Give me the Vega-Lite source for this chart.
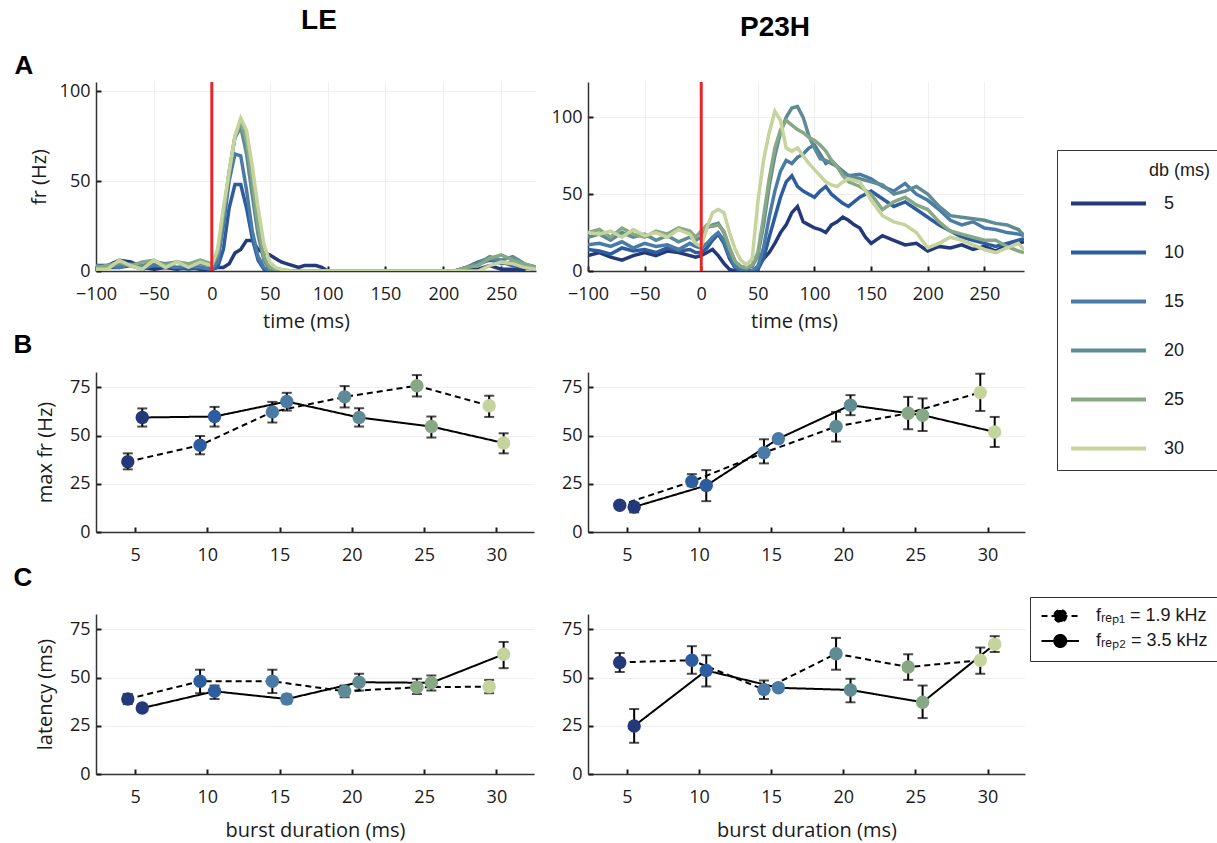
{
"$schema": "https://vega.github.io/schema/vega-lite/v6.json",
"padding": {"left": 13, "top": 7, "right": 0, "bottom": 2},
"background": "white",
"spacing": 0,
"datasets": {
"red": [{"t": 0}],
"leA": [
{"d":5,"t":-100,"v":3},{"d":5,"t":-90,"v":3},{"d":5,"t":-80,"v":6},{"d":5,"t":-70,"v":5},{"d":5,"t":-60,"v":2},{"d":5,"t":-50,"v":1},{"d":5,"t":-40,"v":2},{"d":5,"t":-30,"v":1},{"d":5,"t":-20,"v":2},{"d":5,"t":-10,"v":1},{"d":5,"t":0,"v":1},{"d":5,"t":5,"v":2},{"d":5,"t":10,"v":2},{"d":5,"t":15,"v":4},{"d":5,"t":20,"v":10},{"d":5,"t":25,"v":12},{"d":5,"t":30,"v":17},{"d":5,"t":35,"v":17},{"d":5,"t":40,"v":12},{"d":5,"t":45,"v":10},{"d":5,"t":50,"v":9},{"d":5,"t":55,"v":7},{"d":5,"t":60,"v":5},{"d":5,"t":65,"v":4},{"d":5,"t":70,"v":3},{"d":5,"t":75,"v":2},{"d":5,"t":80,"v":3},{"d":5,"t":90,"v":3},{"d":5,"t":95,"v":2},{"d":5,"t":100,"v":0},{"d":5,"t":210,"v":0},{"d":5,"t":220,"v":1},{"d":5,"t":230,"v":1},{"d":5,"t":240,"v":3},{"d":5,"t":250,"v":1},{"d":5,"t":260,"v":1},{"d":5,"t":270,"v":1},{"d":5,"t":275,"v":3},{"d":5,"t":280,"v":2},
{"d":10,"t":-100,"v":2},{"d":10,"t":-90,"v":2},{"d":10,"t":-80,"v":2},{"d":10,"t":-70,"v":3},{"d":10,"t":-60,"v":1},{"d":10,"t":-50,"v":3},{"d":10,"t":-40,"v":2},{"d":10,"t":-30,"v":2},{"d":10,"t":-20,"v":1},{"d":10,"t":-10,"v":2},{"d":10,"t":0,"v":1},{"d":10,"t":5,"v":2},{"d":10,"t":10,"v":12},{"d":10,"t":15,"v":35},{"d":10,"t":20,"v":48},{"d":10,"t":25,"v":48},{"d":10,"t":30,"v":35},{"d":10,"t":35,"v":18},{"d":10,"t":40,"v":6},{"d":10,"t":45,"v":1},{"d":10,"t":50,"v":1},{"d":10,"t":60,"v":0},{"d":10,"t":210,"v":0},{"d":10,"t":220,"v":2},{"d":10,"t":230,"v":4},{"d":10,"t":240,"v":6},{"d":10,"t":250,"v":5},{"d":10,"t":260,"v":3},{"d":10,"t":270,"v":2},{"d":10,"t":280,"v":1},
{"d":15,"t":-100,"v":2},{"d":15,"t":-90,"v":3},{"d":15,"t":-80,"v":2},{"d":15,"t":-70,"v":4},{"d":15,"t":-60,"v":2},{"d":15,"t":-50,"v":3},{"d":15,"t":-40,"v":3},{"d":15,"t":-30,"v":2},{"d":15,"t":-20,"v":3},{"d":15,"t":-10,"v":2},{"d":15,"t":0,"v":1},{"d":15,"t":5,"v":5},{"d":15,"t":10,"v":25},{"d":15,"t":15,"v":50},{"d":15,"t":20,"v":65},{"d":15,"t":25,"v":64},{"d":15,"t":30,"v":45},{"d":15,"t":35,"v":22},{"d":15,"t":40,"v":8},{"d":15,"t":45,"v":2},{"d":15,"t":50,"v":0},{"d":15,"t":210,"v":0},{"d":15,"t":220,"v":2},{"d":15,"t":230,"v":5},{"d":15,"t":240,"v":7},{"d":15,"t":250,"v":4},{"d":15,"t":260,"v":5},{"d":15,"t":270,"v":2},{"d":15,"t":280,"v":1},
{"d":20,"t":-100,"v":3},{"d":20,"t":-90,"v":2},{"d":20,"t":-80,"v":4},{"d":20,"t":-70,"v":3},{"d":20,"t":-60,"v":3},{"d":20,"t":-50,"v":5},{"d":20,"t":-40,"v":4},{"d":20,"t":-30,"v":5},{"d":20,"t":-20,"v":3},{"d":20,"t":-10,"v":4},{"d":20,"t":0,"v":3},{"d":20,"t":5,"v":8},{"d":20,"t":10,"v":30},{"d":20,"t":15,"v":55},{"d":20,"t":20,"v":74},{"d":20,"t":25,"v":80},{"d":20,"t":30,"v":65},{"d":20,"t":35,"v":42},{"d":20,"t":40,"v":20},{"d":20,"t":45,"v":6},{"d":20,"t":50,"v":1},{"d":20,"t":60,"v":0},{"d":20,"t":210,"v":0},{"d":20,"t":220,"v":2},{"d":20,"t":230,"v":4},{"d":20,"t":240,"v":8},{"d":20,"t":250,"v":6},{"d":20,"t":260,"v":8},{"d":20,"t":270,"v":4},{"d":20,"t":280,"v":2},
{"d":25,"t":-100,"v":2},{"d":25,"t":-90,"v":3},{"d":25,"t":-80,"v":5},{"d":25,"t":-70,"v":3},{"d":25,"t":-60,"v":5},{"d":25,"t":-50,"v":6},{"d":25,"t":-40,"v":3},{"d":25,"t":-30,"v":5},{"d":25,"t":-20,"v":4},{"d":25,"t":-10,"v":6},{"d":25,"t":0,"v":4},{"d":25,"t":5,"v":10},{"d":25,"t":10,"v":32},{"d":25,"t":15,"v":55},{"d":25,"t":20,"v":75},{"d":25,"t":25,"v":83},{"d":25,"t":30,"v":72},{"d":25,"t":35,"v":50},{"d":25,"t":40,"v":25},{"d":25,"t":45,"v":8},{"d":25,"t":50,"v":2},{"d":25,"t":60,"v":0},{"d":25,"t":210,"v":0},{"d":25,"t":220,"v":2},{"d":25,"t":230,"v":3},{"d":25,"t":240,"v":7},{"d":25,"t":250,"v":9},{"d":25,"t":260,"v":6},{"d":25,"t":270,"v":4},{"d":25,"t":280,"v":2},
{"d":30,"t":-100,"v":1},{"d":30,"t":-90,"v":1},{"d":30,"t":-80,"v":6},{"d":30,"t":-70,"v":3},{"d":30,"t":-60,"v":1},{"d":30,"t":-50,"v":6},{"d":30,"t":-40,"v":2},{"d":30,"t":-30,"v":5},{"d":30,"t":-20,"v":2},{"d":30,"t":-10,"v":5},{"d":30,"t":0,"v":3},{"d":30,"t":5,"v":12},{"d":30,"t":10,"v":35},{"d":30,"t":15,"v":55},{"d":30,"t":20,"v":75},{"d":30,"t":25,"v":85},{"d":30,"t":30,"v":78},{"d":30,"t":35,"v":58},{"d":30,"t":40,"v":35},{"d":30,"t":45,"v":15},{"d":30,"t":50,"v":5},{"d":30,"t":55,"v":2},{"d":30,"t":60,"v":1},{"d":30,"t":70,"v":0},{"d":30,"t":230,"v":0},{"d":30,"t":240,"v":3},{"d":30,"t":250,"v":5},{"d":30,"t":260,"v":4},{"d":30,"t":270,"v":2},{"d":30,"t":280,"v":1}
],
"pA": [
{"d":5,"t":-100,"v":10},{"d":5,"t":-90,"v":12},{"d":5,"t":-80,"v":9},{"d":5,"t":-70,"v":7},{"d":5,"t":-60,"v":10},{"d":5,"t":-50,"v":12},{"d":5,"t":-40,"v":10},{"d":5,"t":-30,"v":13},{"d":5,"t":-20,"v":12},{"d":5,"t":-10,"v":10},{"d":5,"t":-5,"v":9},{"d":5,"t":0,"v":10},{"d":5,"t":5,"v":12},{"d":5,"t":10,"v":14},{"d":5,"t":15,"v":10},{"d":5,"t":20,"v":5},{"d":5,"t":25,"v":1},{"d":5,"t":30,"v":0},{"d":5,"t":40,"v":0},{"d":5,"t":45,"v":0},{"d":5,"t":50,"v":3},{"d":5,"t":55,"v":8},{"d":5,"t":60,"v":12},{"d":5,"t":65,"v":18},{"d":5,"t":70,"v":25},{"d":5,"t":75,"v":30},{"d":5,"t":80,"v":38},{"d":5,"t":85,"v":42},{"d":5,"t":90,"v":32},{"d":5,"t":95,"v":30},{"d":5,"t":100,"v":28},{"d":5,"t":105,"v":27},{"d":5,"t":110,"v":25},{"d":5,"t":115,"v":30},{"d":5,"t":120,"v":32},{"d":5,"t":125,"v":35},{"d":5,"t":130,"v":33},{"d":5,"t":135,"v":30},{"d":5,"t":140,"v":28},{"d":5,"t":145,"v":22},{"d":5,"t":150,"v":18},{"d":5,"t":160,"v":23},{"d":5,"t":170,"v":20},{"d":5,"t":180,"v":17},{"d":5,"t":190,"v":18},{"d":5,"t":200,"v":13},{"d":5,"t":210,"v":16},{"d":5,"t":220,"v":15},{"d":5,"t":230,"v":17},{"d":5,"t":240,"v":14},{"d":5,"t":250,"v":16},{"d":5,"t":260,"v":13},{"d":5,"t":270,"v":17},{"d":5,"t":280,"v":18},{"d":5,"t":285,"v":19},
{"d":10,"t":-100,"v":14},{"d":10,"t":-90,"v":13},{"d":10,"t":-80,"v":11},{"d":10,"t":-70,"v":15},{"d":10,"t":-60,"v":13},{"d":10,"t":-50,"v":14},{"d":10,"t":-40,"v":12},{"d":10,"t":-30,"v":15},{"d":10,"t":-20,"v":13},{"d":10,"t":-10,"v":14},{"d":10,"t":-5,"v":12},{"d":10,"t":0,"v":12},{"d":10,"t":5,"v":15},{"d":10,"t":10,"v":20},{"d":10,"t":15,"v":24},{"d":10,"t":20,"v":18},{"d":10,"t":25,"v":8},{"d":10,"t":30,"v":2},{"d":10,"t":35,"v":0},{"d":10,"t":45,"v":0},{"d":10,"t":50,"v":1},{"d":10,"t":55,"v":8},{"d":10,"t":60,"v":22},{"d":10,"t":65,"v":35},{"d":10,"t":70,"v":48},{"d":10,"t":75,"v":58},{"d":10,"t":80,"v":62},{"d":10,"t":85,"v":55},{"d":10,"t":90,"v":52},{"d":10,"t":95,"v":50},{"d":10,"t":100,"v":48},{"d":10,"t":105,"v":52},{"d":10,"t":110,"v":55},{"d":10,"t":115,"v":50},{"d":10,"t":120,"v":47},{"d":10,"t":125,"v":44},{"d":10,"t":130,"v":42},{"d":10,"t":140,"v":48},{"d":10,"t":150,"v":52},{"d":10,"t":160,"v":47},{"d":10,"t":170,"v":42},{"d":10,"t":180,"v":45},{"d":10,"t":190,"v":40},{"d":10,"t":200,"v":35},{"d":10,"t":210,"v":30},{"d":10,"t":220,"v":26},{"d":10,"t":230,"v":22},{"d":10,"t":240,"v":20},{"d":10,"t":250,"v":18},{"d":10,"t":260,"v":16},{"d":10,"t":270,"v":18},{"d":10,"t":280,"v":20},{"d":10,"t":285,"v":21},
{"d":15,"t":-100,"v":17},{"d":15,"t":-90,"v":18},{"d":15,"t":-80,"v":16},{"d":15,"t":-70,"v":19},{"d":15,"t":-60,"v":15},{"d":15,"t":-50,"v":18},{"d":15,"t":-40,"v":16},{"d":15,"t":-30,"v":17},{"d":15,"t":-20,"v":14},{"d":15,"t":-10,"v":18},{"d":15,"t":-5,"v":16},{"d":15,"t":0,"v":15},{"d":15,"t":5,"v":18},{"d":15,"t":10,"v":22},{"d":15,"t":15,"v":25},{"d":15,"t":20,"v":20},{"d":15,"t":25,"v":10},{"d":15,"t":30,"v":3},{"d":15,"t":35,"v":1},{"d":15,"t":40,"v":0},{"d":15,"t":45,"v":0},{"d":15,"t":50,"v":3},{"d":15,"t":55,"v":15},{"d":15,"t":60,"v":35},{"d":15,"t":65,"v":52},{"d":15,"t":70,"v":65},{"d":15,"t":75,"v":72},{"d":15,"t":80,"v":70},{"d":15,"t":85,"v":74},{"d":15,"t":90,"v":76},{"d":15,"t":95,"v":80},{"d":15,"t":100,"v":82},{"d":15,"t":105,"v":76},{"d":15,"t":110,"v":70},{"d":15,"t":115,"v":72},{"d":15,"t":120,"v":68},{"d":15,"t":125,"v":65},{"d":15,"t":130,"v":62},{"d":15,"t":140,"v":63},{"d":15,"t":150,"v":60},{"d":15,"t":160,"v":55},{"d":15,"t":170,"v":52},{"d":15,"t":180,"v":57},{"d":15,"t":190,"v":50},{"d":15,"t":200,"v":46},{"d":15,"t":210,"v":40},{"d":15,"t":220,"v":33},{"d":15,"t":230,"v":30},{"d":15,"t":240,"v":32},{"d":15,"t":250,"v":28},{"d":15,"t":260,"v":27},{"d":15,"t":270,"v":25},{"d":15,"t":280,"v":24},{"d":15,"t":285,"v":23},
{"d":20,"t":-100,"v":22},{"d":20,"t":-90,"v":24},{"d":20,"t":-80,"v":20},{"d":20,"t":-70,"v":25},{"d":20,"t":-60,"v":22},{"d":20,"t":-50,"v":24},{"d":20,"t":-40,"v":20},{"d":20,"t":-30,"v":23},{"d":20,"t":-20,"v":19},{"d":20,"t":-10,"v":22},{"d":20,"t":-5,"v":20},{"d":20,"t":0,"v":22},{"d":20,"t":5,"v":28},{"d":20,"t":10,"v":30},{"d":20,"t":15,"v":31},{"d":20,"t":20,"v":25},{"d":20,"t":25,"v":15},{"d":20,"t":30,"v":6},{"d":20,"t":35,"v":3},{"d":20,"t":40,"v":2},{"d":20,"t":45,"v":3},{"d":20,"t":50,"v":10},{"d":20,"t":55,"v":30},{"d":20,"t":60,"v":55},{"d":20,"t":65,"v":75},{"d":20,"t":70,"v":90},{"d":20,"t":75,"v":100},{"d":20,"t":80,"v":106},{"d":20,"t":85,"v":107},{"d":20,"t":90,"v":100},{"d":20,"t":95,"v":88},{"d":20,"t":100,"v":80},{"d":20,"t":105,"v":73},{"d":20,"t":110,"v":72},{"d":20,"t":115,"v":70},{"d":20,"t":120,"v":68},{"d":20,"t":125,"v":64},{"d":20,"t":130,"v":62},{"d":20,"t":140,"v":60},{"d":20,"t":150,"v":58},{"d":20,"t":160,"v":56},{"d":20,"t":170,"v":50},{"d":20,"t":180,"v":52},{"d":20,"t":190,"v":55},{"d":20,"t":200,"v":50},{"d":20,"t":210,"v":42},{"d":20,"t":220,"v":36},{"d":20,"t":230,"v":35},{"d":20,"t":240,"v":34},{"d":20,"t":250,"v":33},{"d":20,"t":260,"v":31},{"d":20,"t":270,"v":30},{"d":20,"t":280,"v":27},{"d":20,"t":285,"v":23},
{"d":25,"t":-100,"v":25},{"d":25,"t":-90,"v":27},{"d":25,"t":-80,"v":22},{"d":25,"t":-70,"v":28},{"d":25,"t":-60,"v":24},{"d":25,"t":-50,"v":22},{"d":25,"t":-40,"v":26},{"d":25,"t":-30,"v":24},{"d":25,"t":-20,"v":28},{"d":25,"t":-10,"v":26},{"d":25,"t":-5,"v":22},{"d":25,"t":0,"v":26},{"d":25,"t":5,"v":30},{"d":25,"t":10,"v":29},{"d":25,"t":15,"v":30},{"d":25,"t":20,"v":26},{"d":25,"t":25,"v":15},{"d":25,"t":30,"v":6},{"d":25,"t":35,"v":3},{"d":25,"t":40,"v":2},{"d":25,"t":45,"v":4},{"d":25,"t":50,"v":12},{"d":25,"t":55,"v":35},{"d":25,"t":60,"v":60},{"d":25,"t":65,"v":80},{"d":25,"t":70,"v":92},{"d":25,"t":75,"v":98},{"d":25,"t":80,"v":95},{"d":25,"t":85,"v":92},{"d":25,"t":90,"v":90},{"d":25,"t":95,"v":87},{"d":25,"t":100,"v":85},{"d":25,"t":105,"v":82},{"d":25,"t":110,"v":78},{"d":25,"t":115,"v":72},{"d":25,"t":120,"v":68},{"d":25,"t":125,"v":62},{"d":25,"t":130,"v":58},{"d":25,"t":140,"v":55},{"d":25,"t":150,"v":50},{"d":25,"t":160,"v":40},{"d":25,"t":170,"v":45},{"d":25,"t":180,"v":48},{"d":25,"t":190,"v":43},{"d":25,"t":200,"v":40},{"d":25,"t":210,"v":32},{"d":25,"t":220,"v":26},{"d":25,"t":230,"v":24},{"d":25,"t":240,"v":22},{"d":25,"t":250,"v":20},{"d":25,"t":260,"v":20},{"d":25,"t":270,"v":16},{"d":25,"t":280,"v":13},{"d":25,"t":285,"v":12},
{"d":30,"t":-100,"v":25},{"d":30,"t":-90,"v":24},{"d":30,"t":-80,"v":26},{"d":30,"t":-70,"v":22},{"d":30,"t":-60,"v":27},{"d":30,"t":-50,"v":23},{"d":30,"t":-40,"v":25},{"d":30,"t":-30,"v":22},{"d":30,"t":-20,"v":27},{"d":30,"t":-10,"v":24},{"d":30,"t":-5,"v":18},{"d":30,"t":0,"v":16},{"d":30,"t":5,"v":28},{"d":30,"t":10,"v":38},{"d":30,"t":15,"v":40},{"d":30,"t":20,"v":38},{"d":30,"t":25,"v":25},{"d":30,"t":30,"v":14},{"d":30,"t":35,"v":7},{"d":30,"t":40,"v":4},{"d":30,"t":45,"v":8},{"d":30,"t":50,"v":45},{"d":30,"t":55,"v":72},{"d":30,"t":60,"v":90},{"d":30,"t":65,"v":104},{"d":30,"t":70,"v":98},{"d":30,"t":75,"v":80},{"d":30,"t":80,"v":78},{"d":30,"t":85,"v":80},{"d":30,"t":90,"v":75},{"d":30,"t":95,"v":70},{"d":30,"t":100,"v":66},{"d":30,"t":105,"v":62},{"d":30,"t":110,"v":58},{"d":30,"t":115,"v":56},{"d":30,"t":120,"v":55},{"d":30,"t":125,"v":58},{"d":30,"t":130,"v":60},{"d":30,"t":140,"v":58},{"d":30,"t":150,"v":46},{"d":30,"t":160,"v":36},{"d":30,"t":170,"v":32},{"d":30,"t":180,"v":30},{"d":30,"t":190,"v":25},{"d":30,"t":200,"v":15},{"d":30,"t":210,"v":18},{"d":30,"t":220,"v":22},{"d":30,"t":230,"v":20},{"d":30,"t":240,"v":17},{"d":30,"t":250,"v":14},{"d":30,"t":260,"v":12},{"d":30,"t":270,"v":15},{"d":30,"t":280,"v":18},{"d":30,"t":285,"v":14}
],
"leB": [
{"d":5,"k":"1.9","v":36.5,"lo":32.5,"hi":40.8},{"d":10,"k":"1.9","v":45,"lo":40.3,"hi":49.8},{"d":15,"k":"1.9","v":62.3,"lo":56.8,"hi":67.5},{"d":20,"k":"1.9","v":70.1,"lo":64.6,"hi":75.7},{"d":25,"k":"1.9","v":75.9,"lo":70.3,"hi":81.4},{"d":30,"k":"1.9","v":65.5,"lo":59.7,"hi":70.7},
{"d":5,"k":"3.5","v":59.4,"lo":54.7,"hi":64.1},{"d":10,"k":"3.5","v":59.9,"lo":54.7,"hi":64.9},{"d":15,"k":"3.5","v":67.7,"lo":63,"hi":72.2},{"d":20,"k":"3.5","v":59.4,"lo":54.7,"hi":64.2},{"d":25,"k":"3.5","v":54.7,"lo":49,"hi":59.9},{"d":30,"k":"3.5","v":46.2,"lo":40.8,"hi":51.2}
],
"pB": [
{"d":5,"k":"1.9","v":13.9,"lo":12.9,"hi":14.9},{"d":10,"k":"1.9","v":26.2,"lo":23.8,"hi":30},{"d":15,"k":"1.9","v":41.1,"lo":35.6,"hi":48.1},{"d":20,"k":"1.9","v":54.7,"lo":46.9,"hi":62.3},{"d":25,"k":"1.9","v":61.6,"lo":53.3,"hi":70.1},{"d":30,"k":"1.9","v":72.4,"lo":62.8,"hi":82.1},
{"d":5,"k":"3.5","v":13,"lo":10.2,"hi":15.1},{"d":10,"k":"3.5","v":24.1,"lo":16,"hi":32.1},{"d":15,"k":"3.5","v":48.4,"lo":47,"hi":49.8},{"d":20,"k":"3.5","v":65.8,"lo":60.6,"hi":71},{"d":25,"k":"3.5","v":60.6,"lo":52.4,"hi":69.3},{"d":30,"k":"3.5","v":51.9,"lo":44.1,"hi":59.7}
],
"leC": [
{"d":5,"k":"1.9","v":38.9,"lo":36.3,"hi":41.5},{"d":10,"k":"1.9","v":48.1,"lo":41.9,"hi":54.1},{"d":15,"k":"1.9","v":48.1,"lo":42,"hi":54.1},{"d":20,"k":"1.9","v":42.9,"lo":39.8,"hi":45.9},{"d":25,"k":"1.9","v":45,"lo":41.5,"hi":49.4},{"d":30,"k":"1.9","v":45.3,"lo":41.9,"hi":48.8},
{"d":5,"k":"3.5","v":34.2,"lo":33.2,"hi":35.2},{"d":10,"k":"3.5","v":42.9,"lo":38.9,"hi":45.9},{"d":15,"k":"3.5","v":38.9,"lo":36.6,"hi":41.2},{"d":20,"k":"3.5","v":47.6,"lo":43.3,"hi":52},{"d":25,"k":"3.5","v":47.3,"lo":43.3,"hi":51.1},{"d":30,"k":"3.5","v":62.1,"lo":54.9,"hi":68.5}
],
"pC": [
{"d":5,"k":"1.9","v":57.9,"lo":52.9,"hi":62.8},{"d":10,"k":"1.9","v":59,"lo":52,"hi":66.3},{"d":15,"k":"1.9","v":43.8,"lo":38.9,"hi":48.5},{"d":20,"k":"1.9","v":62.4,"lo":54.1,"hi":70.6},{"d":25,"k":"1.9","v":55.5,"lo":48.8,"hi":62.1},{"d":30,"k":"1.9","v":59,"lo":52,"hi":65.6},
{"d":5,"k":"3.5","v":24.9,"lo":16.2,"hi":33.7},{"d":10,"k":"3.5","v":53.7,"lo":45.4,"hi":61.6},{"d":15,"k":"3.5","v":44.7,"lo":43.7,"hi":45.7},{"d":20,"k":"3.5","v":43.6,"lo":37.2,"hi":49.4},{"d":25,"k":"3.5","v":37.2,"lo":29,"hi":45.9},{"d":30,"k":"3.5","v":67.3,"lo":63.3,"hi":71.5}
]
},
"vconcat": [
{"hconcat": [
{
"width": 440, "height": 189,
"title": {"text": "LE", "anchor": "middle", "frame": "group", "dx": 3, "offset": -5, "fontSize": 28, "font": "Liberation Sans", "fontWeight": "bold", "color": "#000000", "baseline": "alphabetic"},
"layer": [
{"data": {"name": "leA"}, "mark": {"type": "line", "strokeWidth": 3.5, "clip": true},
"encoding": {
"x": {"field": "t", "type": "quantitative", "scale": {"domain": [-100, 280], "nice": false, "zero": false}, "axis": {"orient": "bottom", "values": [-100,-50,0,50,100,150,200,250], "title": "time (ms)", "titleX": 210, "titlePadding": 8}},
"y": {"field": "v", "type": "quantitative", "scale": {"domain": [0, 105], "nice": false}, "axis": {"values": [0, 50, 100], "title": "fr (Hz)", "titlePadding": 10}},
"color": {"field": "d", "type": "ordinal", "scale": {"domain": [5,10,15,20,25,30], "range": ["#24397a","#2e5d9f","#4a7ba6","#5f8b95","#87a884","#c5d39d"]},
"legend": {"title": "db (ms)", "orient": "none", "legendX": 961, "legendY": 68, "direction": "vertical", "titleAnchor": "end", "titleAlign": "right", "titlePadding": 14, "labelOffset": 76, "rowPadding": 30, "padding": 12, "symbolType": "M-1,0H9", "symbolSize": 225, "symbolStrokeWidth": 4, "labelLimit": 300,
"labelExpr": "datum.label + '\u2800\u2800'",
"encode": {"symbols": {"update": {"stroke": {"scale": "color", "field": "value"}, "fill": {"value": "transparent"}, "strokeWidth": {"value": 4}, "shape": {"value": "M-1,0H9"}, "size": {"value": 225}, "opacity": {"value": 1}}}}}}
}},
{"data": {"name": "red"}, "mark": {"type": "rule", "color": "#e8262a", "strokeWidth": 3},
"encoding": {"x": {"field": "t", "type": "quantitative", "scale": {"domain": [-100, 280], "nice": false, "zero": false},
"axis": {"orient": "top", "title": "A", "labels": false, "ticks": false, "domain": false, "grid": false, "titleX": -82, "titleY": -9, "titleAlign": "left", "titleBaseline": "alphabetic", "titleAngle": 0, "titleFont": "Liberation Sans", "titleFontSize": 26, "titleFontWeight": "bold", "titleColor": "#000000"}}}}
],
"resolve": {"axis": {"x": "independent"}}
},
{
"width": 436, "height": 189,
"title": {"text": "P23H", "anchor": "middle", "frame": "group", "dx": -31, "offset": 17, "fontSize": 28, "font": "Liberation Sans", "fontWeight": "bold", "color": "#000000", "baseline": "alphabetic"},
"layer": [
{"data": {"name": "pA"}, "mark": {"type": "line", "strokeWidth": 3.5, "clip": true},
"encoding": {
"x": {"field": "t", "type": "quantitative", "scale": {"domain": [-100, 285], "nice": false, "zero": false}, "axis": {"orient": "bottom", "values": [-100,-50,0,50,100,150,200,250], "title": "time (ms)", "titleX": 206, "titlePadding": 8}},
"y": {"field": "v", "type": "quantitative", "scale": {"domain": [0, 123], "nice": false}, "axis": {"values": [0, 50, 100], "title": null}},
"color": {"field": "d", "type": "ordinal"}
}},
{"data": {"name": "red"}, "mark": {"type": "rule", "color": "#e8262a", "strokeWidth": 3},
"encoding": {"x": {"field": "t", "type": "quantitative", "scale": {"domain": [-100, 285], "nice": false, "zero": false}, "axis": null}}}
],
"resolve": {"axis": {"x": "independent"}}
}
], "spacing": 15},
{"hconcat": [
{
"width": 438, "height": 160,
"data": {"name": "leB"},
"transform": [{"calculate": "datum.d + (datum.k == '1.9' ? -0.5 : 0.5)", "as": "x"}],
"layer": [
{"mark": {"type": "line", "color": "#000000", "strokeWidth": 2},
"encoding": {
"x": {"field": "x", "type": "quantitative", "scale": {"domain": [2.3, 32.6], "nice": false, "zero": false},
"axis": {"orient": "top", "title": "B", "labels": false, "ticks": false, "domain": false, "grid": false, "titleX": -83, "titleY": -20, "titleAlign": "left", "titleBaseline": "alphabetic", "titleAngle": 0, "titleFont": "Liberation Sans", "titleFontSize": 26, "titleFontWeight": "bold", "titleColor": "#000000"}},
"y": {"field": "v", "type": "quantitative", "scale": {"domain": [0, 83], "nice": false}, "axis": {"values": [0, 25, 50, 75], "title": "max fr (Hz)", "titlePadding": 14}},
"strokeDash": {"field": "k", "type": "nominal", "scale": {"domain": ["1.9", "3.5"], "range": [[6, 4], [1, 0]]},
"legend": {"title": null, "orient": "none", "legendX": 934, "legendY": 515, "direction": "vertical", "labelOffset": 38, "rowPadding": 5, "padding": 10, "symbolType": "M-1,0H4M2.3,0A0.8,0.8,0,1,1,0.7,0A0.8,0.8,0,1,1,2.3,0", "symbolSize": 225, "symbolFillColor": "#000000", "symbolStrokeColor": "#000000", "symbolStrokeWidth": 2, "symbolOpacity": 1,
"labelExpr": "datum.label == '1.9' ? 'fᵣₑₚ₁ = 1.9 kHz' : 'fᵣₑₚ₂ = 3.5 kHz'",
"encode": {"symbols": {"update": {"fill": {"value": "#000000"}, "fillOpacity": {"value": 1}, "stroke": {"value": "#000000"}, "strokeWidth": {"value": 2}, "shape": {"value": "M-1,0H4M2.3,0A0.8,0.8,0,1,1,0.7,0A0.8,0.8,0,1,1,2.3,0"}, "size": {"value": 225}, "strokeDash": {"scale": "strokeDash", "field": "value"}, "opacity": {"value": 1}}}}}}
}},
{"mark": {"type": "errorbar", "color": "#000000", "thickness": 2, "ticks": {"size": 10, "thickness": 2, "color": "#000000"}},
"encoding": {"x": {"field": "x", "type": "quantitative", "axis": null}, "y": {"field": "lo", "type": "quantitative", "title": "max fr (Hz)"}, "y2": {"field": "hi"}}},
{"mark": {"type": "circle", "size": 180, "opacity": 1},
"encoding": {"x": {"field": "x", "type": "quantitative", "axis": {"orient": "bottom", "values": [5,10,15,20,25,30], "title": null}}, "y": {"field": "v", "type": "quantitative", "title": "max fr (Hz)"}, "color": {"field": "d", "type": "ordinal"}}}
],
"resolve": {"axis": {"x": "independent"}}
},
{
"width": 437, "height": 160,
"data": {"name": "pB"},
"transform": [{"calculate": "datum.d + (datum.k == '1.9' ? -0.5 : 0.5)", "as": "x"}],
"layer": [
{"mark": {"type": "line", "color": "#000000", "strokeWidth": 2},
"encoding": {
"x": {"field": "x", "type": "quantitative", "scale": {"domain": [2.3, 32.6], "nice": false, "zero": false}, "axis": null},
"y": {"field": "v", "type": "quantitative", "scale": {"domain": [0, 83], "nice": false}, "axis": {"values": [0, 25, 50, 75], "title": null}},
"strokeDash": {"field": "k", "type": "nominal"}
}},
{"mark": {"type": "errorbar", "color": "#000000", "thickness": 2, "ticks": {"size": 10, "thickness": 2, "color": "#000000"}},
"encoding": {"x": {"field": "x", "type": "quantitative", "axis": null}, "y": {"field": "lo", "type": "quantitative", "title": null}, "y2": {"field": "hi"}}},
{"mark": {"type": "circle", "size": 180, "opacity": 1},
"encoding": {"x": {"field": "x", "type": "quantitative", "axis": {"orient": "bottom", "values": [5,10,15,20,25,30], "title": null}}, "y": {"field": "v", "type": "quantitative", "title": null}, "color": {"field": "d", "type": "ordinal"}}}
],
"resolve": {"axis": {"x": "independent"}}
}
], "spacing": 27},
{"hconcat": [
{
"width": 438, "height": 160,
"data": {"name": "leC"},
"transform": [{"calculate": "datum.d + (datum.k == '1.9' ? -0.5 : 0.5)", "as": "x"}],
"layer": [
{"mark": {"type": "line", "color": "#000000", "strokeWidth": 2},
"encoding": {
"x": {"field": "x", "type": "quantitative", "scale": {"domain": [2.3, 32.6], "nice": false, "zero": false},
"axis": {"orient": "top", "title": "C", "labels": false, "ticks": false, "domain": false, "grid": false, "titleX": -83, "titleY": -29, "titleAlign": "left", "titleBaseline": "alphabetic", "titleAngle": 0, "titleFont": "Liberation Sans", "titleFontSize": 26, "titleFontWeight": "bold", "titleColor": "#000000"}},
"y": {"field": "v", "type": "quantitative", "scale": {"domain": [0, 83], "nice": false}, "axis": {"values": [0, 25, 50, 75], "title": "latency (ms)", "titlePadding": 14}},
"strokeDash": {"field": "k", "type": "nominal"}
}},
{"mark": {"type": "errorbar", "color": "#000000", "thickness": 2, "ticks": {"size": 10, "thickness": 2, "color": "#000000"}},
"encoding": {"x": {"field": "x", "type": "quantitative", "axis": null}, "y": {"field": "lo", "type": "quantitative", "title": "latency (ms)"}, "y2": {"field": "hi"}}},
{"mark": {"type": "circle", "size": 180, "opacity": 1},
"encoding": {"x": {"field": "x", "type": "quantitative", "axis": {"orient": "bottom", "values": [5,10,15,20,25,30], "title": "burst duration (ms)", "titlePadding": 14}}, "y": {"field": "v", "type": "quantitative", "title": "latency (ms)"}, "color": {"field": "d", "type": "ordinal"}}}
],
"resolve": {"axis": {"x": "independent"}}
},
{
"width": 437, "height": 160,
"data": {"name": "pC"},
"transform": [{"calculate": "datum.d + (datum.k == '1.9' ? -0.5 : 0.5)", "as": "x"}],
"layer": [
{"mark": {"type": "line", "color": "#000000", "strokeWidth": 2},
"encoding": {
"x": {"field": "x", "type": "quantitative", "scale": {"domain": [2.3, 32.6], "nice": false, "zero": false}, "axis": null},
"y": {"field": "v", "type": "quantitative", "scale": {"domain": [0, 83], "nice": false}, "axis": {"values": [0, 25, 50, 75], "title": null}},
"strokeDash": {"field": "k", "type": "nominal"}
}},
{"mark": {"type": "errorbar", "color": "#000000", "thickness": 2, "ticks": {"size": 10, "thickness": 2, "color": "#000000"}},
"encoding": {"x": {"field": "x", "type": "quantitative", "axis": null}, "y": {"field": "lo", "type": "quantitative", "title": null}, "y2": {"field": "hi"}}},
{"mark": {"type": "circle", "size": 180, "opacity": 1},
"encoding": {"x": {"field": "x", "type": "quantitative", "axis": {"orient": "bottom", "values": [5,10,15,20,25,30], "title": "burst duration (ms)", "titlePadding": 14}}, "y": {"field": "v", "type": "quantitative", "title": null}, "color": {"field": "d", "type": "ordinal"}}}
],
"resolve": {"axis": {"x": "independent"}}
}
], "spacing": 27}
],
"config": {
"view": {"stroke": null},
"axis": {"labelFont": "Open Sans", "labelFontSize": 18, "labelColor": "#1a1a1a", "titleFont": "Open Sans", "titleFontSize": 20, "titleFontWeight": "normal", "titleColor": "#1a1a1a", "domainColor": "#333333", "domainWidth": 1.5, "tickColor": "#1a1a1a", "tickWidth": 2, "tickSize": -5, "gridColor": "#efefef", "gridWidth": 1, "grid": true, "labelFlush": false, "labelOverlap": false},
"axisX": {"labelPadding": 19},
"axisY": {"labelPadding": 11},
"legend": {"labelFont": "Liberation Sans", "labelFontSize": 18, "labelColor": "#1a1a1a", "titleFont": "Liberation Sans", "titleFontSize": 18, "titleFontWeight": "normal", "titleColor": "#1a1a1a", "strokeColor": "#333333", "fillColor": "#ffffff"}
}
}
